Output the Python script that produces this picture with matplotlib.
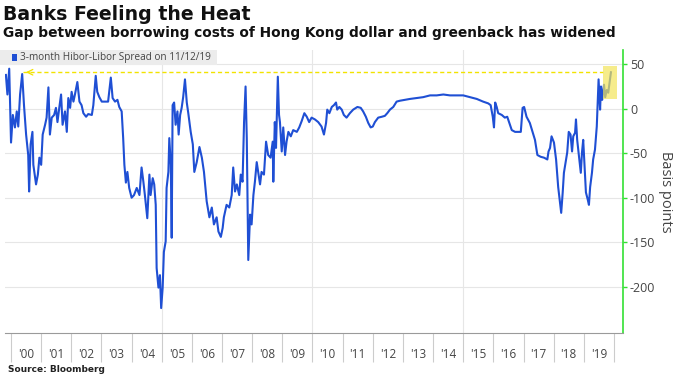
import matplotlib
matplotlib.use("Agg")
import matplotlib.pyplot as plt
from matplotlib.patches import Rectangle

# ---- data (decimal year, spread in basis points) ----
years = [1999.83, 1999.88, 1999.94, 2000.00, 2000.06, 2000.13, 2000.19, 2000.24, 2000.30, 2000.37,
         2000.43, 2000.50, 2000.57, 2000.60, 2000.65, 2000.71, 2000.74, 2000.83, 2000.89, 2000.94,
         2001.00, 2001.05, 2001.13, 2001.18, 2001.24, 2001.29, 2001.35, 2001.43, 2001.49, 2001.54,
         2001.60, 2001.66, 2001.71, 2001.79, 2001.85, 2001.90, 2001.96, 2002.01, 2002.07, 2002.12,
         2002.20, 2002.27, 2002.34, 2002.40, 2002.49, 2002.56, 2002.68, 2002.73, 2002.81, 2002.86,
         2002.93, 2003.01, 2003.05, 2003.22, 2003.31, 2003.37, 2003.45, 2003.53, 2003.59, 2003.67,
         2003.72, 2003.76, 2003.81, 2003.86, 2003.92, 2004.00, 2004.08, 2004.17, 2004.26, 2004.33,
         2004.39, 2004.44, 2004.52, 2004.59, 2004.63, 2004.70, 2004.75, 2004.80, 2004.83, 2004.89,
         2004.94, 2004.98, 2005.03, 2005.07, 2005.13, 2005.16, 2005.22, 2005.25, 2005.30, 2005.33,
         2005.36, 2005.41, 2005.46, 2005.52, 2005.56, 2005.61, 2005.66, 2005.71, 2005.77, 2005.83,
         2005.88, 2005.96, 2006.03, 2006.08, 2006.16, 2006.25, 2006.33, 2006.40, 2006.43, 2006.49,
         2006.58, 2006.66, 2006.73, 2006.82, 2006.88, 2006.96, 2007.02, 2007.06, 2007.15, 2007.24,
         2007.32, 2007.37, 2007.43, 2007.49, 2007.57, 2007.62, 2007.68, 2007.73, 2007.78, 2007.82,
         2007.87, 2007.93, 2007.98, 2008.04, 2008.09, 2008.15, 2008.20, 2008.26, 2008.31, 2008.39,
         2008.46, 2008.53, 2008.61, 2008.68, 2008.70, 2008.75, 2008.79, 2008.85, 2008.89, 2008.92,
         2008.98, 2009.03, 2009.09, 2009.14, 2009.20, 2009.28, 2009.36, 2009.48, 2009.56, 2009.64,
         2009.73, 2009.81, 2009.89, 2009.97, 2010.08, 2010.19, 2010.30, 2010.38, 2010.45, 2010.49,
         2010.56, 2010.64, 2010.71, 2010.78, 2010.82, 2010.89, 2010.97, 2011.04, 2011.13, 2011.24,
         2011.35, 2011.49, 2011.60, 2011.68, 2011.77, 2011.85, 2011.93, 2012.00, 2012.07, 2012.18,
         2012.30, 2012.40, 2012.48, 2012.57, 2012.68, 2012.79, 2012.90, 2013.07, 2013.23, 2013.46,
         2013.67, 2013.90, 2014.12, 2014.34, 2014.56, 2014.78, 2015.00, 2015.22, 2015.45, 2015.66,
         2015.83, 2015.91, 2015.98, 2016.02, 2016.06, 2016.11, 2016.16, 2016.28, 2016.38, 2016.46,
         2016.53, 2016.61, 2016.72, 2016.83, 2016.91, 2016.97, 2017.02, 2017.10, 2017.21, 2017.30,
         2017.38, 2017.46, 2017.57, 2017.68, 2017.79, 2017.83, 2017.88, 2017.93, 2018.01, 2018.08,
         2018.15, 2018.21, 2018.25, 2018.30, 2018.34, 2018.41, 2018.45, 2018.50, 2018.56, 2018.61,
         2018.65, 2018.71, 2018.74, 2018.78, 2018.85, 2018.90, 2018.94, 2018.98, 2019.03, 2019.07,
         2019.13, 2019.17, 2019.21, 2019.27, 2019.31, 2019.37, 2019.43, 2019.46, 2019.49, 2019.54,
         2019.57, 2019.61, 2019.67, 2019.71, 2019.76, 2019.81, 2019.87, 2019.90]
spread = [38, 16, 45, -38, -7, -21, -3, -20, 16, 39,
          4, -29, -52, -93, -40, -26, -63, -85, -74, -55,
          -63, -29, -18, -10, 24, -29, -10, -7, 1, -15,
          1, 16, -18, -3, -26, 12, 1, 19, 8, 16,
          30, 8, 4, -5, -9, -6, -7, 4, 37, 19,
          13, 8, 8, 8, 35, 12, 8, 10, 2, -3,
          -33, -63, -83, -71, -89, -100, -97, -89, -97, -66,
          -82, -97, -123, -74, -97, -78, -85, -108, -179, -201,
          -187, -224, -201, -161, -149, -89, -71, -33, -63, -145,
          4, 7, -18, -3, -29, -7, 1, 13, 33, 7,
          -5, -26, -40, -71, -60, -43, -55, -71, -82, -104,
          -122, -111, -130, -122, -138, -144, -134, -122, -108, -111,
          -97, -66, -93, -85, -97, -74, -82, -15, 25, -33,
          -170, -119, -130, -97, -82, -60, -71, -85, -71, -74,
          -37, -52, -55, -37, -82, -15, -44, 36, -7, -15,
          -48, -21, -52, -37, -26, -31, -24, -26, -21, -14,
          -5, -9, -15, -10, -12, -15, -20, -29, -16, -1,
          -5, 2, 4, 7, -1, 2, -1, -7, -10, -5,
          -1, 2, 1, -3, -9, -16, -21, -20, -15, -10,
          -9, -8, -5, -1, 2, 8, 9, 10, 11, 12,
          13, 15, 15, 16, 15, 15, 15, 13, 11, 8,
          6, 4, -9, -21, 7, 2, -5, -7, -10, -9,
          -16, -24, -26, -26, -26, 1, 2, -9, -16, -26,
          -35, -52, -54, -55, -57, -48, -44, -31, -38, -57,
          -88, -106, -117, -94, -72, -57, -49, -26, -29, -48,
          -31, -27, -12, -35, -57, -72, -49, -35, -69, -94,
          -102, -108, -88, -72, -57, -46, -20, 7, 33, -1,
          25, 10, 27, 13, 21, 18, 33, 41]

year_labels = ["'00", "'01", "'02", "'03", "'04", "'05", "'06", "'07", "'08", "'09",
               "'10", "'11", "'12", "'13", "'14", "'15", "'16", "'17", "'18", "'19"]
first_year = 2000
y_ticks = [50, 0, -50, -100, -150, -200]
latest_value = 41

title = "Banks Feeling the Heat"
subtitle = "Gap between borrowing costs of Hong Kong dollar and greenback has widened"
legend_text = "3-month Hibor-Libor Spread on 11/12/19"
source = "Source: Bloomberg"

# ---- styling ----
BLUE = "#1f4fd4"
GREEN = "#33e033"
YELLOW = "#f2e300"
GRID = "#e6e6e6"
TXT = "#444444"

fig = plt.figure(figsize=(6.8, 3.81), dpi=100)
ax = fig.add_axes([5 / 680, 1 - 333 / 381, (623 - 5) / 680, (333 - 50) / 381])

ax.set_xlim(1999.8, 2020.3)
ax.set_ylim(-252, 66)

for v in y_ticks:
    ax.axhline(v, color=GRID, lw=0.8, zorder=0)
for yv in (2005, 2010, 2015):
    ax.axvline(yv, color=GRID, lw=0.8, zorder=0)

ax.plot(years, spread, color=BLUE, lw=1.5, zorder=3)

# latest-value line and highlight
x_arrow = 2000.4
x_box = 2019.62
ax.plot([x_arrow, x_box], [latest_value, latest_value], color=YELLOW, lw=1.0,
        ls=(0, (3, 2)), zorder=2)
ax.annotate("", xy=(x_arrow, latest_value), xytext=(x_arrow + 0.3, latest_value),
            arrowprops=dict(arrowstyle="->", color=YELLOW, lw=0.9), zorder=2)
ax.add_patch(Rectangle((x_box, 11), 0.47, 37, facecolor="#f3e55a", alpha=0.7,
                       edgecolor="none", zorder=4))

# spines
for s in ("top", "left"):
    ax.spines[s].set_visible(False)
ax.spines["bottom"].set_color("#9a9a9a")
ax.spines["right"].set_color(GREEN)
ax.spines["right"].set_linewidth(1.2)

# y axis on right
ax.yaxis.tick_right()
ax.set_yticks(y_ticks)
ax.set_yticklabels([str(v) for v in y_ticks], fontsize=9, color=TXT, family="Open Sans")
ax.tick_params(axis="y", which="major", length=3, color=GREEN, width=1, pad=2)
ax.yaxis.set_label_position("right")
ax.set_ylabel("Basis points", rotation=270, fontsize=10.5, color=TXT, family="Open Sans",
              labelpad=13)

# x axis: labels centred in each year, separator ticks at year boundaries
centers = [first_year + i + 0.5 for i in range(len(year_labels))]
bounds = [first_year + i for i in range(len(year_labels) + 1)]
ax.set_xticks(centers)
ax.set_xticklabels(year_labels, fontsize=8.5, color=TXT, family="Open Sans")
ax.set_xticks(bounds, minor=True)
ax.tick_params(axis="x", which="major", length=0, pad=11)
ax.tick_params(axis="x", which="minor", length=21, color="#cccccc", width=0.8)

# legend box
fig.patches.append(Rectangle((0, 1 - 65 / 381), 217 / 680, 15 / 381,
                             transform=fig.transFigure, facecolor="#ececec",
                             edgecolor="none", zorder=5))
fig.patches.append(Rectangle((12 / 680, 1 - 61 / 381), 5 / 680, 7 / 381,
                             transform=fig.transFigure, facecolor=BLUE,
                             edgecolor="none", zorder=6))
fig.text(19.5 / 680, 1 - 57.5 / 381, legend_text, fontsize=7.2, color=TXT,
         family="Open Sans", va="center", ha="left", zorder=7)

# titles
fig.text(3 / 680, 1 - 15 / 381, title, fontsize=13.6, fontweight="bold",
         family="DejaVu Sans", va="center", ha="left", color="#111111")
fig.text(3 / 680, 1 - 33 / 381, subtitle, fontsize=9.9, fontweight="bold",
         family="DejaVu Sans", va="center", ha="left", color="#111111")
fig.text(8 / 680, 1 - 370 / 381, source, fontsize=6.5, fontweight="bold",
         family="DejaVu Sans", va="center", ha="left", color="#222222")

fig.savefig("out.png", dpi=100)
